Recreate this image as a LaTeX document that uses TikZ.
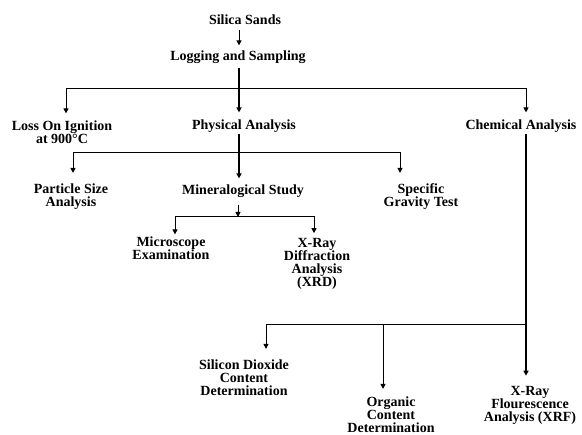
\documentclass[tikz,border=0pt]{standalone}
\usepackage{fontspec}
\setmainfont{Liberation Serif}
\usetikzlibrary{arrows.meta}
\tikzset{
  item/.style  = {inner sep=0pt, align=center,
                  font=\bfseries\fontsize{14}{13}\selectfont},
  arr/.style   = {-{Triangle[length=5pt,width=5pt]}, line width=1pt,
                  shorten >=7pt},
  heavy/.style = {line width=2pt}
}

\begin{document}
\begin{tikzpicture}[x=1pt,y=-1pt]
  \useasboundingbox (0,0) rectangle (582,435);
  % steps
  \node[item] (silica) at (245,20)  {Silica Sands};
  \node[item] (log)    at (238,57)  {Logging and Sampling};
  \node[item] (loss)   at (62,132)  {Loss On Ignition\\at 900\textdegree C};
  \node[item] (phys)   at (244,126) {Physical Analysis};
  \node[item] (chem)   at (521,126) {Chemical Analysis};
  \node[item] (psa)    at (71,197)  {Particle Size\\Analysis};
  \node[item] (min)    at (243,191) {Mineralogical Study};
  \node[item] (sgt)    at (421,197) {Specific\\Gravity Test};
  \node[item] (mic)    at (171,248) {Microscope\\Examination};
  \node[item] (xrd)    at (317,264) {X-Ray\\Diffraction\\Analysis\\(XRD)};
  \node[item] (sio2)   at (244,378) {Silicon Dioxide\\Content\\Determination};
  \node[item] (org)    at (391,415) {Organic\\Content\\Determination};
  \node[item] (xrf)    at (530,405) {X-Ray\\Flourescence\\Analysis (XRF)};
  % bus points
  \coordinate (b1) at (239,89);
  \coordinate (b2) at (239,153);
  \coordinate (b3) at (238,217);
  \coordinate (b4) at (526,325);
  % links
  \draw[arr, shorten <=5pt, shorten >=5pt] (silica.south -| b1) -- (log.north -| b1);
  \draw[arr, line width=1.4pt, shorten <=4pt, shorten >=7pt] (log.south -| b1) -- (phys.north -| b1);
  \draw[arr] (b1) -| ([xshift=4pt]loss.north);
  \draw[arr] (b1) -| ([xshift=5pt]chem.north);
  \draw[arr, heavy, shorten <=1pt, shorten >=6pt] (phys.south -| b2) -- (min.north -| b2);
  \draw[arr, shorten >=11pt] (b2) -| ([xshift=2pt]psa.north);
  \draw[arr, shorten >=11pt] (b2) -| ([xshift=-21pt]sgt.north);
  \draw[arr, shorten <=7pt, shorten >=0pt] (min.south -| b3) -- (b3);
  \draw[arr, shorten >=2pt] (b3) -| ([xshift=4pt]mic.north);
  \draw[arr, shorten >=5pt] (b3) -| ([xshift=-3pt]xrd.north);
  \draw[arr, line width=1.3pt, shorten <=1pt, shorten >=10pt]
    (chem.south -| b4) -- (xrf.north -| b4);
  \draw[arr, shorten >=11pt] (b4) -| ([xshift=22pt]sio2.north);
  \draw[arr, shorten >=8pt] (b4) -| ([xshift=-8pt]org.north);
\end{tikzpicture}
\end{document}
